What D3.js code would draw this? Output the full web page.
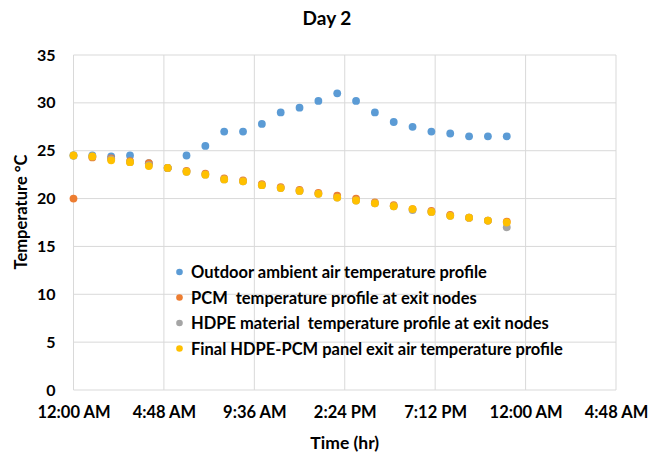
<!DOCTYPE html>
<html><head><meta charset="utf-8">
<script src="https://cdn.jsdelivr.net/npm/d3@7"></script>
<style>body{margin:0;background:#fff;} text{font-family:Lato,"Open Sans",sans-serif;font-weight:bold;fill:#000;white-space:pre;}</style>
</head><body>
<svg id="c" width="662" height="457"></svg>
<script>
const hours = [0,1,2,3,4,5,6,7,8,9,10,11,12,13,14,15,16,17,18,19,20,21,22,23];
const outdoor = [24.5,24.5,24.4,24.5,23.7,23.2,24.5,25.5,27.0,27.0,27.8,29.0,29.5,30.2,31.0,30.2,29.0,28.0,27.5,27.0,26.8,26.5,26.5,26.5];
const pcm = [20.0,24.3,24.2,23.9,23.7,23.2,22.9,22.6,22.1,21.9,21.5,21.2,20.9,20.6,20.3,20.0,19.6,19.3,18.9,18.7,18.3,18.0,17.7,17.6];
const hdpe = [24.5,24.4,24.1,23.8,23.5,23.2,22.8,22.5,22.0,21.8,21.4,21.1,20.8,20.5,20.1,19.8,19.5,19.2,18.8,18.6,18.2,18.0,17.7,17.0];
const finalAir = [24.5,24.4,24.0,23.8,23.4,23.2,22.8,22.5,22.0,21.8,21.4,21.1,20.8,20.5,20.1,19.8,19.5,19.2,18.9,18.6,18.2,18.0,17.7,17.5];
const xTickValues = [0,4.8,9.6,14.4,19.2,24,28.8];
const xTickLabels = ["12:00 AM","4:48 AM","9:36 AM","2:24 PM","7:12 PM","12:00 AM","4:48 AM"];
const yTicks = [0,5,10,15,20,25,30,35];
const seriesNames = ["Outdoor ambient air temperature profile","PCM  temperature profile at exit nodes","HDPE material  temperature profile at exit nodes","Final HDPE-PCM panel exit air temperature profile"];
const seriesColors = ["#5B9BD5","#ED7D31","#A5A5A5","#FFC000"];
const seriesData = [outdoor, pcm, hdpe, finalAir];

const svg = d3.select("#c");
const L = 73.5, R = 616, T = 55, B = 390;
const x = d3.scaleLinear().domain([0,28.8]).range([L,R]);
const y = d3.scaleLinear().domain([0,35]).range([B,T]);

// grid
svg.append("g").selectAll("line").data(yTicks).join("line")
  .attr("x1",L).attr("x2",R).attr("y1",d=>y(d)).attr("y2",d=>y(d))
  .attr("stroke","#D9D9D9").attr("stroke-width",1);
svg.append("g").selectAll("line").data(xTickValues).join("line")
  .attr("x1",d=>x(d)).attr("x2",d=>x(d)).attr("y1",T).attr("y2",B)
  .attr("stroke","#D9D9D9").attr("stroke-width",1);

// axes labels
const yAxis = d3.axisLeft(y).tickValues(yTicks).tickSize(0).tickPadding(18);
const gy = svg.append("g").attr("transform",`translate(${L},0)`).call(yAxis);
gy.select(".domain").remove();
gy.selectAll("text").style("font-size","16px").style("font-family","Lato,sans-serif").style("font-weight","bold").attr("fill","#000");

const xAxis = d3.axisBottom(x).tickValues(xTickValues).tickFormat((d,i)=>xTickLabels[i]).tickSize(0).tickPadding(16);
const gx = svg.append("g").attr("transform",`translate(0,${B})`).call(xAxis);
gx.select(".domain").remove();
gx.selectAll("text").style("font-size","16.5px").style("font-family","Lato,sans-serif").style("font-weight","bold").attr("fill","#000");

// points
seriesData.forEach((arr,si)=>{
  svg.append("g").selectAll("circle").data(arr).join("circle")
    .attr("cx",(d,i)=>x(hours[i])).attr("cy",d=>y(d)).attr("r",3.9)
    .attr("fill",seriesColors[si]);
});

// titles
svg.append("text").attr("x",327).attr("y",25).attr("text-anchor","middle").style("font-size","19px").text("Day 2");
svg.append("text").attr("transform",`translate(27,212) rotate(-90)`).attr("text-anchor","middle").style("font-size","16.5px").text("Temperature °C");
svg.append("text").attr("x",(L+R)/2).attr("y",449).attr("text-anchor","middle").style("font-size","17.5px").text("Time (hr)");

// legend
const lg = svg.append("g");
seriesNames.forEach((n,i)=>{
  const yy = 272 + i*25.5;
  lg.append("circle").attr("cx",179.5).attr("cy",yy).attr("r",3.3).attr("fill",seriesColors[i]);
  lg.append("text").attr("x",191).attr("y",yy+6).style("font-size","16.5px").text(n);
});
</script>
</body></html>
